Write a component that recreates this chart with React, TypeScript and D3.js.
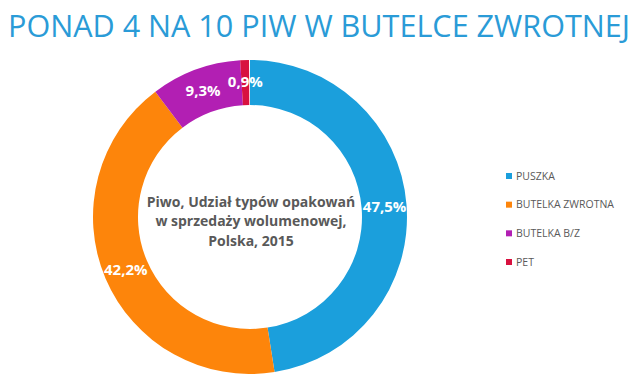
import React from "react";
import * as d3 from "d3";

const title = "PONAD 4 NA 10 PIW W BUTELCE ZWROTNEJ";
const categories = ["PUSZKA", "BUTELKA ZWROTNA", "BUTELKA B/Z", "PET"];
const values = [47.5, 42.2, 9.3, 0.9];
const valueLabels = ["47,5%", "42,2%", "9,3%", "0,9%"];
const colors = ["#1b9fdc", "#fd850b", "#b21fb3", "#d8113f"];
const centerLines = ["Piwo, Udział typów opakowań", "w sprzedaży wolumenowej,", "Polska, 2015"];

export default function App() {
  const W = 640, H = 383;
  const cx = 250, cy = 217, rOut = 157, rIn = 112;
  const pie = d3.pie<number>().sort(null).value((d) => d).startAngle(0).endAngle((2 * Math.PI * d3.sum(values)) / 100);
  const arcs = pie(values);
  const arc = d3.arc<d3.PieArcDatum<number>>().innerRadius(rIn).outerRadius(rOut);
  const labelArc = d3.arc<d3.PieArcDatum<number>>().innerRadius(135).outerRadius(135);
  const legendY = d3.scalePoint<string>().domain(categories).range([176, 262]);
  return (
    <svg width={W} height={H} style={{ position: "absolute", left: 0, top: 0, background: "#fff" }}>
      <text x={8} y={37} fontFamily="'Open Sans', sans-serif" fontSize={31} fill="#2a9bd7" textLength={622} lengthAdjust="spacingAndGlyphs">
        {title}
      </text>
      <g transform={`translate(${cx},${cy})`}>
        {arcs.map((a, i) => (
          <path key={i} d={arc(a) || ""} fill={colors[i]} />
        ))}
        {arcs.map((a, i) => {
          const [x, y] = labelArc.centroid(a);
          return (
            <text key={"l" + i} x={x} y={y} dy="0.35em" textAnchor="middle" fontFamily="'Open Sans', sans-serif" fontWeight="bold" fontSize={15} fill="#fff">
              {valueLabels[i]}
            </text>
          );
        })}
        {centerLines.map((t, i) => (
          <text key={"c" + i} x={1} y={-15 + i * 19.5} dy="0.35em" textAnchor="middle" fontFamily="'Open Sans', sans-serif" fontWeight="bold" fontSize={14} fill="#595959">
            {t}
          </text>
        ))}
      </g>
      {categories.map((c, i) => (
        <g key={c} transform={`translate(506,${legendY(c)})`}>
          <rect x={0} y={-3} width={6} height={6} fill={colors[i]} />
          <text x={10} y={0} dy="0.35em" fontFamily="'Open Sans', sans-serif" fontSize={10.5} fill="#595959">
            {c}
          </text>
        </g>
      ))}
    </svg>
  );
}
